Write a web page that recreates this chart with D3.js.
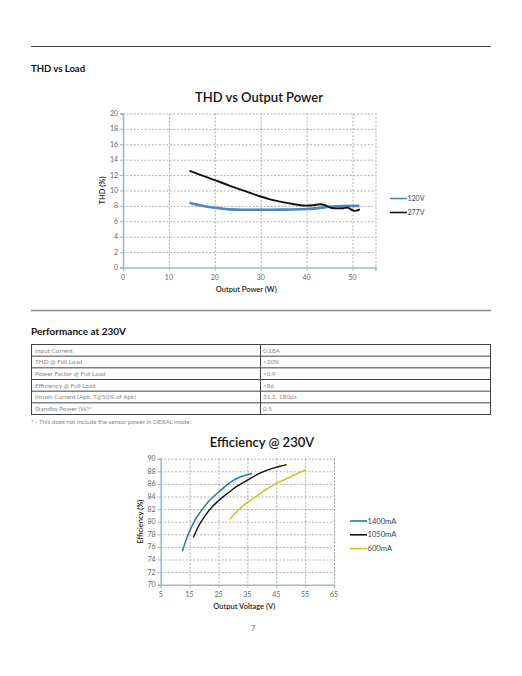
<!DOCTYPE html>
<html>
<head>
<meta charset="utf-8">
<script src="https://cdn.jsdelivr.net/npm/d3@7"></script>
<style>
  body { margin: 0; background: #fff; }
  svg { display: block; font-family: Lato, "Open Sans", sans-serif; }
</style>
</head>
<body>
<svg id="page" width="522" height="676"></svg>
<script>
// THD vs output power
var thdXTicks = [0, 10, 20, 30, 40, 50];
var thdYTicks = [0, 2, 4, 6, 8, 10, 12, 14, 16, 18, 20];
var thd120 = [[14.5, 8.42], [17, 8.05], [20, 7.75], [23, 7.55], [26, 7.5], [30, 7.5], [35, 7.52], [40, 7.6], [43, 7.75], [45, 7.88], [48, 7.98], [51.5, 8.0]];
var thd277 = [[14.5, 12.57], [17, 12.0], [20, 11.36], [23.3, 10.6], [26.5, 9.95], [29.8, 9.25], [32, 8.85], [34.2, 8.55], [37, 8.25], [40, 8.03], [41.5, 8.1], [42.9, 8.22], [44, 8.1], [45.5, 7.72], [46.5, 7.68], [48, 7.7], [48.8, 7.8], [49.8, 7.5], [50.5, 7.35], [51.6, 7.55]];
var thdSeries = ["120V", "277V"];

// Efficiency @ 230V
var effXTicks = [5, 15, 25, 35, 45, 55, 65];
var effYTicks = [70, 72, 74, 76, 78, 80, 82, 84, 86, 88, 90];
var eff1400 = [[12.5, 75.3], [13.8, 77.1], [15.2, 78.7], [16.6, 80.0], [18, 81.06], [19.8, 82.2], [21.5, 83.17], [23.3, 84.0], [25.2, 84.76], [27, 85.5], [29, 86.2], [30.7, 86.7], [32.5, 87.1], [34.6, 87.4], [36.6, 87.65]];
var eff1050 = [[16.3, 77.5], [17.2, 78.4], [18, 79.2], [19, 80.0], [20.3, 80.9], [22.5, 82.2], [24.7, 83.2], [27, 84.1], [29, 84.8], [31.3, 85.6], [33.6, 86.2], [36.5, 87.0], [39.4, 87.7], [41.7, 88.15], [44, 88.5], [46.3, 88.8], [48.6, 89.05]];
var eff600 = [[29, 80.4], [30.7, 81.3], [32.5, 82.1], [34.8, 83.0], [37.1, 83.7], [40.5, 84.8], [44, 85.8], [47, 86.5], [49.8, 87.1], [52.5, 87.7], [55.2, 88.2]];
var effSeries = ["1400mA", "1050mA", "600mA"];

// table
var tableLabels = ["Input Current", "THD @ Full Load", "Power Factor @ Full Load", "Efficiency @ Full Load", "Inrush Current (Apk, T@50% of Apk)", "Standby Power (W)*"];
var tableValues = ["0.18A", "<20%", ">0.9", ">86", "31.2, 180\u00b5s", "0.5"];

var svg = d3.select("#page");

// page furniture
svg.append("line").attr("x1", 31).attr("x2", 491).attr("y1", 46.5).attr("y2", 46.5)
  .attr("stroke", "#444").attr("stroke-width", 1);
svg.append("text").attr("x", 31).attr("y", 71.5).attr("font-size", 9.5).attr("font-weight", 700)
  .attr("fill", "#111").text("THD vs Load");

svg.append("line").attr("x1", 31).attr("x2", 491).attr("y1", 310.5).attr("y2", 310.5)
  .attr("stroke", "#888").attr("stroke-width", 1.5);
svg.append("text").attr("x", 31).attr("y", 335).attr("font-size", 10).attr("font-weight", 700)
  .attr("fill", "#111").text("Performance at 230V");

// table
var rowY = d3.scaleBand().domain(d3.range(tableLabels.length)).range([344.5, 414.5]);
var table = svg.append("g");
table.append("rect").attr("x", 31.5).attr("y", 344.5).attr("width", 459).attr("height", 70)
  .attr("fill", "none").attr("stroke", "#444").attr("stroke-width", 1);
table.append("line").attr("x1", 260.5).attr("x2", 260.5).attr("y1", 344.5).attr("y2", 414.5)
  .attr("stroke", "#444");
table.selectAll("line.row").data(d3.range(1, tableLabels.length)).enter()
  .append("line").attr("class", "row")
  .attr("x1", 31.5).attr("x2", 490.5)
  .attr("y1", d => rowY(d)).attr("y2", d => rowY(d))
  .attr("stroke", "#444");
table.selectAll("text.lab").data(tableLabels).enter().append("text").attr("class", "lab")
  .attr("x", 35).attr("y", (d, i) => rowY(i) + rowY.bandwidth() / 2 + 2.3)
  .attr("font-size", 6.4).attr("fill", "#888").text(d => d);
table.selectAll("text.val").data(tableValues).enter().append("text").attr("class", "val")
  .attr("x", 263).attr("y", (d, i) => rowY(i) + rowY.bandwidth() / 2 + 2.3)
  .attr("font-size", 6.4).attr("fill", "#888").text(d => d);
svg.append("text").attr("x", 31).attr("y", 424).attr("font-size", 6.2).attr("fill", "#888")
  .text("* - This does not include the sensor power in DEXAL mode.");

svg.append("text").attr("x", 253).attr("y", 631).attr("font-size", 8).attr("fill", "#888")
  .attr("text-anchor", "middle").text("7");

// generic excel-ish line chart
function drawChart(cfg) {
  var g = svg.append("g");
  var x = d3.scaleLinear().domain(cfg.xDomain).range([cfg.left, cfg.right]);
  var y = d3.scaleLinear().domain(cfg.yDomain).range([cfg.bottom, cfg.top]);

  // grid
  g.append("g").selectAll("line").data(cfg.xTicks.slice(1).concat([cfg.xDomain[1]])).enter()
    .append("line")
    .attr("x1", d => x(d) + 0.5).attr("x2", d => x(d) + 0.5)
    .attr("y1", cfg.top).attr("y2", cfg.bottom)
    .attr("stroke", "#9a9a9a").attr("stroke-width", 0.8).attr("stroke-dasharray", "2,1.6");
  g.append("g").selectAll("line").data(cfg.yTicks.slice(1)).enter()
    .append("line")
    .attr("x1", cfg.left).attr("x2", cfg.right)
    .attr("y1", d => y(d) + 0.5).attr("y2", d => y(d) + 0.5)
    .attr("stroke", "#9a9a9a").attr("stroke-width", 0.8).attr("stroke-dasharray", "2,1.6");

  // axes
  var xAxis = g.append("g").attr("transform", "translate(0," + cfg.bottom + ")")
    .call(d3.axisBottom(x).tickValues(cfg.xTicks.concat([cfg.xDomain[1]])).tickSize(3).tickFormat(""));
  var yAxis = g.append("g").attr("transform", "translate(" + cfg.left + ",0)")
    .call(d3.axisLeft(y).tickValues(cfg.yTicks).tickSize(3).tickFormat(""));
  [xAxis, yAxis].forEach(function (a) {
    a.select(".domain").attr("stroke", "#9fb6cb").attr("stroke-width", 1.6);
    a.selectAll(".tick line").attr("stroke", "#9fb6cb").attr("stroke-width", 1);
  });

  g.append("g").selectAll("text").data(cfg.xTicks).enter().append("text")
    .attr("x", d => x(d)).attr("y", cfg.bottom + 12)
    .attr("text-anchor", "middle").attr("font-size", 7).attr("fill", "#666").text(d => d);
  g.append("g").selectAll("text").data(cfg.yTicks).enter().append("text")
    .attr("x", cfg.left - 5).attr("y", d => y(d) + 2.5)
    .attr("text-anchor", "end").attr("font-size", 7).attr("fill", "#666").text(d => d);

  // titles
  g.append("text").attr("x", cfg.titleX).attr("y", cfg.titleY)
    .attr("text-anchor", "middle").attr("font-size", 13).attr("font-weight", 600)
    .attr("fill", "#111").text(cfg.title);
  g.append("text").attr("x", (cfg.left + cfg.right) / 2 - 3).attr("y", cfg.xLabelY)
    .attr("text-anchor", "middle").attr("font-size", 7.5).attr("font-weight", 600)
    .attr("fill", "#222").text(cfg.xLabel);
  g.append("text")
    .attr("transform", "translate(" + cfg.yLabelX + "," + (cfg.top + cfg.bottom) / 2 + ") rotate(-90)")
    .attr("text-anchor", "middle").attr("font-size", 7.5).attr("font-weight", 600)
    .attr("fill", "#222").text(cfg.yLabel);

  // lines
  var line = d3.line().x(d => x(d[0])).y(d => y(d[1])).curve(d3.curveMonotoneX);
  cfg.series.forEach(function (s, i) {
    g.append("path").datum(s.values)
      .attr("d", line).attr("fill", "none")
      .attr("stroke", s.color).attr("stroke-width", s.width)
      .attr("stroke-linejoin", "round");
    var ly = cfg.legendY + i * cfg.legendGap;
    g.append("line").attr("x1", cfg.legendX).attr("x2", cfg.legendX + 17)
      .attr("y1", ly).attr("y2", ly).attr("stroke", s.color).attr("stroke-width", 1.6);
    g.append("text").attr("x", cfg.legendX + 17.5).attr("y", ly + 2.5)
      .attr("font-size", cfg.legendSize).attr("fill", "#444").text(s.name);
  });
}

drawChart({
  xDomain: [0, 55], yDomain: [0, 20],
  left: 123, right: 375.5, top: 113.5, bottom: 267.5,
  xTicks: thdXTicks, yTicks: thdYTicks,
  title: "THD vs Output Power", titleX: 259, titleY: 102,
  xLabel: "Output Power (W)", xLabelY: 291.5,
  yLabel: "THD (%)", yLabelX: 105,
  legendX: 390, legendY: 198.5, legendGap: 14, legendSize: 7,
  series: [
    { name: thdSeries[0], values: thd120, color: "#4a86c2", width: 2.6 },
    { name: thdSeries[1], values: thd277, color: "#111", width: 1.9 }
  ]
});

drawChart({
  xDomain: [5, 65], yDomain: [70, 90],
  left: 160.7, right: 334, top: 458.7, bottom: 584.7,
  xTicks: effXTicks, yTicks: effYTicks,
  title: "Efficiency @ 230V", titleX: 262, titleY: 447,
  xLabel: "Output Voltage (V)", xLabelY: 609,
  yLabel: "Efficiency (%)", yLabelX: 143,
  legendX: 350, legendY: 521, legendGap: 13.8, legendSize: 7.6,
  series: [
    { name: effSeries[0], values: eff1400, color: "#2f74a8", width: 1.5 },
    { name: effSeries[1], values: eff1050, color: "#111", width: 1.4 },
    { name: effSeries[2], values: eff600, color: "#e0b822", width: 1.5 }
  ]
});
</script>
</body>
</html>
